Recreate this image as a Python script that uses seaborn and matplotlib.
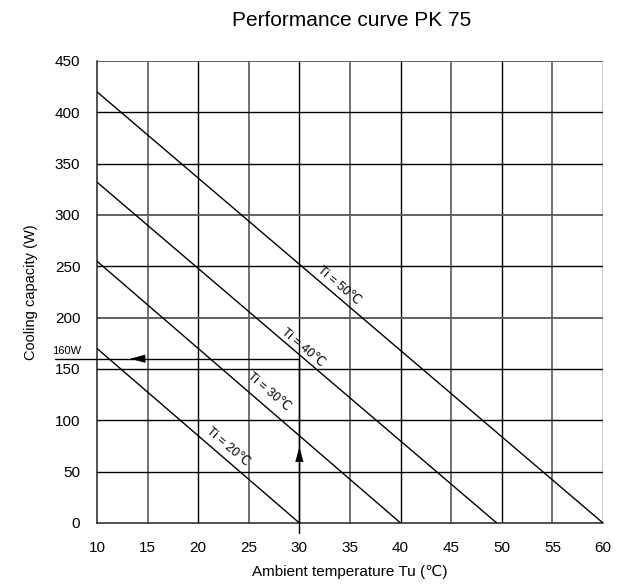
import math
import numpy as np
import pandas as pd
import matplotlib
matplotlib.use("Agg")
import matplotlib.pyplot as plt
import seaborn as sns

# ---- data ----
series_labels = ["Ti = 50\u2103", "Ti = 40\u2103", "Ti = 30\u2103", "Ti = 20\u2103"]
ti50_x = [10, 60]
ti50_y = [420, 0]
ti40_x = [10, 49.5]
ti40_y = [332, 0]
ti30_x = [10, 40]
ti30_y = [255, 0]
ti20_x = [10, 30]
ti20_y = [170, 0]
x_ticks = [10, 15, 20, 25, 30, 35, 40, 45, 50, 55, 60]
y_ticks = [0, 50, 100, 150, 200, 250, 300, 350, 400, 450]
example_ambient = 30
example_capacity = 160
example_label = "160W"

rows = []
for lab, xs, ys in zip(series_labels, [ti50_x, ti40_x, ti30_x, ti20_x],
                       [ti50_y, ti40_y, ti30_y, ti20_y]):
    for x, y in zip(xs, ys):
        rows.append({"series": lab, "Tu": x, "Q": y})
df = pd.DataFrame(rows)

sns.set_theme(style="white")
plt.rcParams['font.family'] = ['Liberation Sans', 'DejaVu Sans']

fig = plt.figure(figsize=(6.2, 5.86), dpi=100)
ax = fig.add_axes([97 / 620, 1 - 523 / 586, 506 / 620, 462 / 586])

ax.set_xlim(10, 60)
ax.set_ylim(0, 450)

# grid
gray_v = {15, 25, 35, 45, 55}
for x in x_ticks[1:]:
    if x in gray_v:
        ax.axvline(x, color="#707070", lw=1.4, zorder=1)
    else:
        ax.axvline(x, color="black", lw=1.0, zorder=1)
gray_h = {450, 300, 200}
for y in y_ticks[1:]:
    if y in gray_h:
        ax.axhline(y, color="#606060", lw=1.4, zorder=1)
    else:
        ax.axhline(y, color="black", lw=1.0, zorder=1)

sns.lineplot(data=df, x="Tu", y="Q", units="series", estimator=None,
             color="black", linewidth=1.0, ax=ax, legend=False, zorder=3)

for s in ["top", "right"]:
    ax.spines[s].set_visible(False)
for s in ["left", "bottom"]:
    ax.spines[s].set_color("#222222")
    ax.spines[s].set_linewidth(1.1)

ax.set_xticks(x_ticks)
ax.set_yticks(y_ticks)
ax.tick_params(axis="x", length=0, pad=13, labelsize=11, colors="black")
ax.tick_params(axis="y", length=0, pad=12, labelsize=11, colors="black")
ax.set_xlabel("Ambient temperature Tu (\u2103)", fontsize=11, labelpad=7, color="black")
ax.set_ylabel("Cooling capacity (W)", fontsize=10.5, labelpad=12, color="black")

fig.text(352 / 620, 1 - 21 / 586, "Performance curve PK 75", ha="center",
         va="center", fontsize=15, color="black")

# line labels
label_pos = [(33.9, 231), (30.3, 171), (27.0, 128), (22.9, 74)]
fig.canvas.draw()
for lab, xs, ys, (lx, ly) in zip(series_labels, [ti50_x, ti40_x, ti30_x, ti20_x],
                                 [ti50_y, ti40_y, ti30_y, ti20_y], label_pos):
    p1 = ax.transData.transform((xs[0], ys[0]))
    p2 = ax.transData.transform((xs[1], ys[1]))
    ang = math.degrees(math.atan2(p2[1] - p1[1], p2[0] - p1[0]))
    ax.text(lx, ly, lab, rotation=ang, rotation_mode="anchor", ha="center",
            va="center", fontsize=9, color="black", zorder=4)

# example reading
ax.plot([5.85, example_ambient], [example_capacity, example_capacity],
        color="black", lw=1.0, clip_on=False, zorder=3)
ax.plot([example_ambient, example_ambient], [-10, example_capacity],
        color="black", lw=1.0, clip_on=False, zorder=3)
astyle = "-|>,head_length=0.8,head_width=0.22"
ax.annotate("", xy=(13.3, example_capacity), xytext=(14.6, example_capacity),
            arrowprops=dict(arrowstyle=astyle, mutation_scale=12, color="black",
                            lw=0.5, shrinkA=0, shrinkB=0), annotation_clip=False)
ax.annotate("", xy=(example_ambient, 74), xytext=(example_ambient, 61),
            arrowprops=dict(arrowstyle=astyle, mutation_scale=12, color="black",
                            lw=0.5, shrinkA=0, shrinkB=0), annotation_clip=False)
ax.text(5.6, example_capacity + 3, example_label, ha="left", va="bottom",
        fontsize=8, color="black", clip_on=False)

fig.savefig("out.png", dpi=100)
